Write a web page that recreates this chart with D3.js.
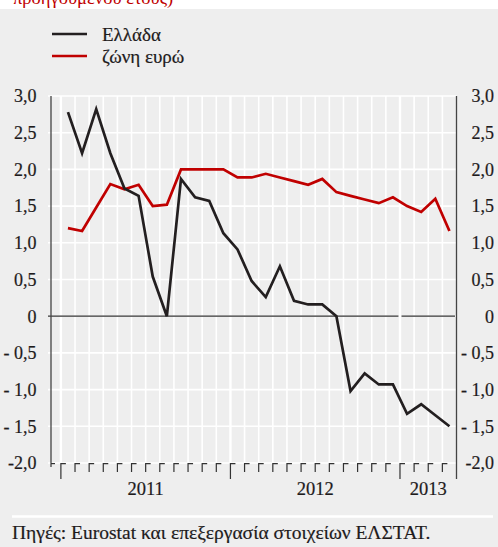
<!DOCTYPE html>
<html>
<head>
<meta charset="utf-8">
<script src="https://cdn.jsdelivr.net/npm/d3@7"></script>
<style>
  html, body { margin: 0; padding: 0; background: #fff; }
  svg { display: block; }
</style>
</head>
<body>
<script>
// ---- Data ----
const months = ["2011-01","2011-02","2011-03","2011-04","2011-05","2011-06","2011-07","2011-08","2011-09","2011-10","2011-11","2011-12",
                "2012-01","2012-02","2012-03","2012-04","2012-05","2012-06","2012-07","2012-08","2012-09","2012-10","2012-11","2012-12",
                "2013-01","2013-02","2013-03","2013-04"];
const greece = [2.78, 2.22, 2.82, 2.22, 1.74, 1.64, 0.54, 0.0, 1.87, 1.62, 1.57, 1.13,
                0.91, 0.48, 0.26, 0.68, 0.21, 0.16, 0.16, 0.0, -1.02, -0.78, -0.93, -0.93,
                -1.33, -1.20, -1.35, -1.50];
const euroArea = [1.20, 1.16, 1.48, 1.80, 1.73, 1.79, 1.50, 1.52, 2.00, 2.00, 2.00, 2.00,
                  1.89, 1.89, 1.94, 1.89, 1.84, 1.79, 1.87, 1.69, 1.64, 1.59, 1.54, 1.62,
                  1.50, 1.42, 1.60, 1.16];
const years = ["2011", "2012", "2013"];
const yTicks = [3.0, 2.5, 2.0, 1.5, 1.0, 0.5, 0, -0.5, -1.0, -1.5, -2.0];
const yTickLabels = ["3,0","2,5","2,0","1,5","1,0","0,5","0","- 0,5","- 1,0","- 1,5","-2,0"];
const seriesNames = ["Ελλάδα", "ζώνη ευρώ"];
const titleTail = "προηγούμενου έτους)";
const sourceText = "Πηγές: Eurostat και επεξεργασία στοιχείων ΕΛΣΤΑΤ.";

// ---- Layout ----
const W = 498, H = 547;
const FONT = "'Liberation Serif', 'Times New Roman', serif";
const TXT = "#1e1b1c";
const colors = ["#231f20", "#c00000"];
const svg = d3.select("body").append("svg").attr("width", W).attr("height", H)
  .attr("font-family", FONT);

svg.append("rect").attr("x", 0).attr("y", 0).attr("width", W).attr("height", H).attr("fill", "#fff");
svg.append("rect").attr("x", 0).attr("y", 9).attr("width", W).attr("height", H - 9).attr("fill", "#eeeeee");

svg.append("text").attr("x", 13).attr("y", 3.5).attr("font-size", 18.5)
   .attr("fill", "#c00000").text(titleTail);

const x = d3.scaleLinear().domain([-0.7, months.length]).range([51, 456.5]);
const y = d3.scaleLinear().domain([-2, 3]).range([463, 96]);
const [xL, xR] = x.range();

// horizontal white gridlines
svg.append("g").selectAll("line").data(yTicks).join("line")
  .attr("x1", xL - 3).attr("x2", xR)
  .attr("y1", d => y(d)).attr("y2", d => y(d))
  .attr("stroke", "#fff").attr("stroke-width", 1.6);

// vertical white gridlines at month boundaries
const yearStartIdx = years.map(yr => months.findIndex(m => m.startsWith(yr)));
const bounds = d3.range(0, months.length);
svg.append("g").selectAll("line").data(bounds).join("line")
  .attr("x1", d => x(d)).attr("x2", d => x(d))
  .attr("y1", y(3)).attr("y2", y(-2))
  .attr("stroke", "#fff")
  .attr("stroke-width", d => yearStartIdx.includes(d) ? 2.4 : 1.6);

// zero line (broken at the 2013 boundary)
const gapX = x(yearStartIdx[2]);
svg.append("line").attr("x1", xL - 3).attr("x2", gapX - 1.5).attr("y1", y(0)).attr("y2", y(0))
   .attr("stroke", "#333").attr("stroke-width", 1.3);
svg.append("line").attr("x1", gapX + 1.5).attr("x2", xR - 1.5).attr("y1", y(0)).attr("y2", y(0))
   .attr("stroke", "#333").attr("stroke-width", 1.3);

// axes lines
svg.append("line").attr("x1", xL).attr("x2", xL).attr("y1", y(3)).attr("y2", y(-2) + 4)
   .attr("stroke", "#444").attr("stroke-width", 1.3);
svg.append("line").attr("x1", xR).attr("x2", xR).attr("y1", y(3)).attr("y2", y(-2) + 16)
   .attr("stroke", "#444").attr("stroke-width", 1.3);

// bottom "Γ" ticks
const tickG = svg.append("g").attr("stroke", "#333").attr("stroke-width", 1.2).attr("fill", "none");
const y0 = y(-2);
tickG.append("path").attr("d", `M${xL},${y0 + 0.6}H${xL + 4}`);
bounds.forEach(d => {
  const xx = x(d);
  const len = yearStartIdx.includes(d) ? 16 : 9;
  tickG.append("path").attr("d", `M${xx},${y0 + len}V${y0 + 0.6}H${xx + 5}`);
});

// y tick labels
const labelStyle = sel => sel.attr("font-size", 18).attr("fill", TXT)
  .attr("stroke", TXT).attr("stroke-width", 0.2);
svg.append("g").selectAll("text").data(yTicks).join("text")
  .attr("x", 36.5).attr("y", d => y(d)).attr("dy", "0.35em")
  .attr("text-anchor", "end").call(labelStyle)
  .text((d, i) => yTickLabels[i]);
svg.append("g").selectAll("text").data(yTicks).join("text")
  .attr("x", 494).attr("y", d => y(d)).attr("dy", "0.35em")
  .attr("text-anchor", "end").call(labelStyle)
  .text((d, i) => yTickLabels[i]);

// year labels
years.forEach((yr, i) => {
  const s = x(yearStartIdx[i]);
  const e = i < years.length - 1 ? x(yearStartIdx[i + 1]) : xR;
  svg.append("text").attr("x", (s + e) / 2).attr("y", 495)
     .attr("text-anchor", "middle").call(labelStyle).attr("font-size", 18.5).text(yr);
});

// lines
const line = d3.line().x((d, i) => x(i + 0.5)).y(d => y(d));
[[euroArea, 1], [greece, 0]].forEach(([s, k]) => {
  svg.append("path").datum(s).attr("d", line)
     .attr("fill", "none").attr("stroke", colors[k]).attr("stroke-width", 2.7);
});

// legend
seriesNames.forEach((n, i) => {
  const ly = 34 + i * 22;
  svg.append("line").attr("x1", 52).attr("x2", 87).attr("y1", ly).attr("y2", ly)
     .attr("stroke", colors[i]).attr("stroke-width", 2.7);
  svg.append("text").attr("x", 102).attr("y", ly + 6.5).call(labelStyle)
     .attr("font-size", 19).text(n);
});

// source separator and text
svg.append("line").attr("x1", 12).attr("x2", 493).attr("y1", 516.5).attr("y2", 516.5)
   .attr("stroke", "#fff").attr("stroke-width", 2.5);
svg.append("text").attr("x", 12).attr("y", 538.5).call(labelStyle).attr("font-size", 19.5)
   .text(sourceText);
</script>
</body>
</html>
